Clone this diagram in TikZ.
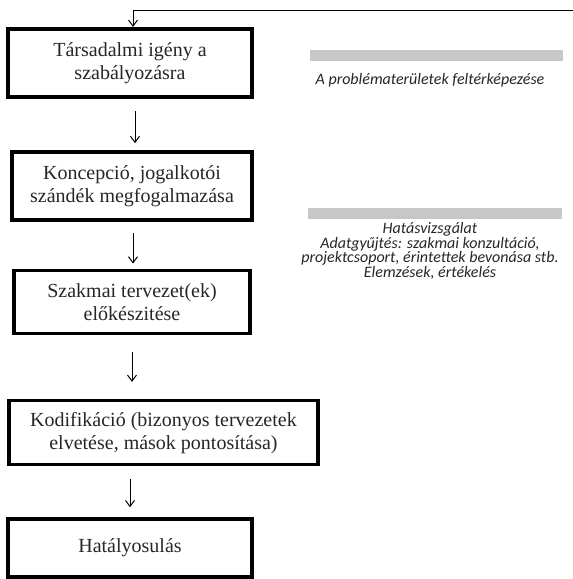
\documentclass[tikz,border=0pt]{standalone}
\usepackage{fontspec}
\setmainfont{Liberation Serif}
\newfontfamily\notefont{Carlito}
\usepackage{tikz}
\usetikzlibrary{arrows.meta,positioning}

\begin{document}
\begin{tikzpicture}[x=1pt, y=-1pt,
        box/.style={draw, line width=3.4pt, align=center, inner sep=0pt,
          font=\fontsize{20}{23}\selectfont, text=black!85},
        arrow/.style={-{Straight Barb[length=6pt, width=9pt]}, line width=1pt},
        bar/.style={fill=black!22, draw=none, minimum height=11pt, inner sep=0pt},
        note/.style={font=\notefont\itshape\fontsize{16}{12.8}\selectfont, align=center, text=black!85}
      ]
      \useasboundingbox (0,0) rectangle (573,579);
      % flow of steps
      \node[box, line width=4.2pt, minimum width=244pt, minimum height=68pt] (tarsadalmi) at (130,63) {Társadalmi igény a\\szabályozásra};
      \node[box, minimum width=240pt, minimum height=68pt, below=51pt of tarsadalmi, xshift=2pt] (koncepcio) {Koncepció, jogalkotói\\szándék megfogalmazása};
      \node[box, minimum width=236pt, minimum height=63pt, below=47pt of koncepcio] (tervezet) {Szakmai tervezet(ek)\\előkészitése};
      \node[box, minimum width=309pt, minimum height=64pt, below=64pt of tervezet, xshift=31.5pt] (kodifikacio) {Kodifikáció (bizonyos tervezetek\\elvetése, mások pontosítása)};
      \node[box, minimum width=244pt, minimum height=58pt, below=51pt of kodifikacio, xshift=-33.5pt] (hatalyos) {Hatályosulás};
      % grey bars and notes
      \node[bar, minimum width=253pt] (problemabar) at (436.5,55.5) {};
      \node[note] (problemanote) at (430,80) {A problématerületek feltérképezése};
      \node[bar, minimum width=254pt] (hatasbar) at (435,213.5) {};
      \node[note] (hatasnote) at (430,251) {Hatásvizsgálat\\Adatgyűjtés: szakmai konzultáció,\\projektcsoport, érintettek bevonása stb.\\Elemzések, értékelés};
      \coordinate (back) at (573,10.5);
      \coordinate (out) at (124,579);
      \draw[arrow] (back) -| ([xshift=3pt]tarsadalmi.north);
      \draw[arrow, shorten <=12pt, shorten >=7pt] ([xshift=5pt]tarsadalmi.south) -- ([xshift=5pt]tarsadalmi.south |- koncepcio.north);
      \draw[arrow, shorten <=11pt, shorten >=5pt] ([xshift=1pt]koncepcio.south) -- ([xshift=1pt]koncepcio.south |- tervezet.north);
      \draw[arrow, shorten <=17pt, shorten >=17pt] (tervezet.south) -- (tervezet.south |- kodifikacio.north);
      \draw[arrow, shorten <=13pt, shorten >=10pt] (hatalyos.north |- kodifikacio.south) -- (hatalyos.north);
      \draw[line width=1pt, shorten <=5pt] (out |- hatalyos.south) -- (out);
    \end{tikzpicture}
\end{document}
